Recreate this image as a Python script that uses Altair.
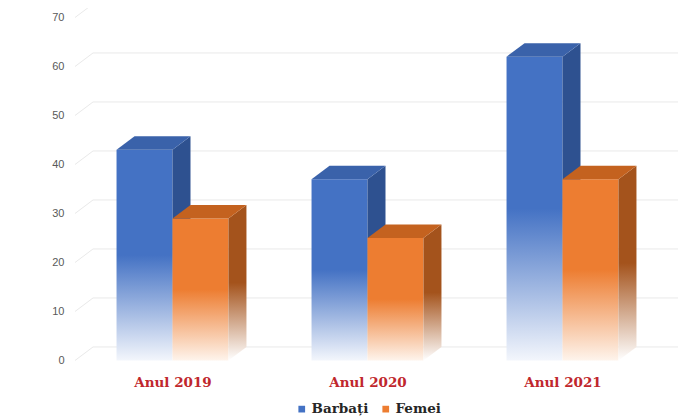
import altair as alt
import pandas as pd

# ---- data ----
years = ["Anul 2019", "Anul 2020", "Anul 2021"]
series = ["Barbați", "Femei"]
barbati = [43, 37, 62]
femei = [29, 25, 37]
y_ticks = [0, 10, 20, 30, 40, 50, 60, 70]

# ---- 3D look parameters (in scale units) ----
BAR_W = 0.287     # front-face width as a fraction of one category band
DX = 0.0923       # depth offset along x (category units)
DY = 2.76         # depth offset along y (value units)
Y_MAX = 71.94
N = len(years)

front_colors = ["#4472C4", "#ED7D31"]
top_colors = ["#3A62AA", "#C4621F"]
side_colors = ["#2E5190", "#A4531C"]
fade_colors = ["#F3F6FC", "#FEF4EC"]

values = [barbati, femei]

front, side, top = [], [], []
for i in range(N):
    c = i + 0.5
    for s, name in enumerate(series):
        v = values[s][i]
        L = c - BAR_W if s == 0 else c
        R = L + BAR_W
        bid = f"{i}-{s}"
        front.append(dict(series=name, bar=bid, x=L, x2=R, y=0, y2=v))
        side.append(dict(series=name, bar=bid, x=R, y=0, y2=v))
        side.append(dict(series=name, bar=bid, x=R + DX, y=DY, y2=v + DY))
        top.append(dict(series=name, bar=bid, x=L, y=v, y2=v))
        top.append(dict(series=name, bar=bid, x=L + DX, y=v, y2=v + DY))
        top.append(dict(series=name, bar=bid, x=R, y=v, y2=v + DY))
        top.append(dict(series=name, bar=bid, x=R + DX, y=v + DY, y2=v + DY))

front_df = pd.DataFrame(front)
side_df = pd.DataFrame(side)
top_df = pd.DataFrame(top)

diag_df = pd.DataFrame(dict(x=[0.0] * len(y_ticks), x2=[DX] * len(y_ticks),
                            y=y_ticks, y2=[t + DY for t in y_ticks]))
back_df = pd.DataFrame(dict(x=[DX] * len(y_ticks), x2=[N + DX] * len(y_ticks),
                            y=[t + DY for t in y_ticks]))
legend_df = pd.DataFrame(dict(series=series, x=[0.5, 0.5], y=[0, 0]))

# ---- scales / axes ----
label_expr = "[" + ",".join(f"'{y}'" for y in years) + "][floor(datum.value)]"
xscale = alt.Scale(domain=[0, N + DX], nice=False, zero=False)
yscale = alt.Scale(domain=[0, Y_MAX], nice=False, zero=False)
xaxis = alt.Axis(values=[i + 0.5 for i in range(N)], labelExpr=label_expr, title=None,
                 domain=False, ticks=False, grid=False, labelFont="DejaVu Serif",
                 labelFontWeight="bold", labelFontSize=13.5, labelColor="#C0272D",
                 labelPadding=15, labelFlush=False, labelOverlap=False)
yaxis = alt.Axis(values=y_ticks, title=None, domain=False, ticks=False, grid=False,
                 labelFont="Liberation Sans", labelFontSize=11, labelColor="#595959",
                 labelPadding=11)


def X(f="x"):
    return alt.X(f"{f}:Q", scale=xscale, axis=xaxis)


def Y(f="y"):
    return alt.Y(f"{f}:Q", scale=yscale, axis=yaxis, stack=None)


def grad(c1, c2):
    return {"gradient": "linear", "x1": 0, "y1": 0, "x2": 0, "y2": 1,
            "stops": [{"offset": 0, "color": c1}, {"offset": 0.5, "color": c1},
                      {"offset": 1, "color": c2}]}


GRID = "#E9E9E9"
layers = [
    alt.Chart(diag_df).mark_rule(color=GRID, strokeWidth=1).encode(
        x=X(), x2="x2:Q", y=Y(), y2="y2:Q"),
    alt.Chart(back_df).mark_rule(color=GRID, strokeWidth=1).encode(
        x=X(), x2="x2:Q", y=Y()),
]

for s, name in enumerate(series):
    layers.append(
        alt.Chart(front_df).transform_filter(alt.datum.series == name)
        .mark_rect(fill=grad(front_colors[s], fade_colors[s]), strokeWidth=0)
        .encode(x=X(), x2="x2:Q", y=Y(), y2="y2:Q"))
    layers.append(
        alt.Chart(side_df).transform_filter(alt.datum.series == name)
        .mark_area(fill=grad(side_colors[s], "#FFFFFF"), opacity=1, interpolate="linear")
        .encode(x=X(), y=Y(), y2="y2:Q", detail="bar:N"))
    layers.append(
        alt.Chart(top_df).transform_filter(alt.datum.series == name)
        .mark_area(fill=top_colors[s], opacity=1, interpolate="linear")
        .encode(x=X(), y=Y(), y2="y2:Q", detail="bar:N"))

layers.append(
    alt.Chart(legend_df).mark_square(opacity=0).encode(
        x=X(), y=Y(),
        color=alt.Color("series:N",
                        scale=alt.Scale(domain=series, range=front_colors),
                        legend=alt.Legend(title=None, orient="none", direction="horizontal",
                                          legendX=220, legendY=394, symbolType="square",
                                          symbolSize=45, symbolOpacity=1, symbolStrokeWidth=0,
                                          labelFont="DejaVu Serif", labelFontWeight="bold",
                                          labelFontSize=13.5, labelColor="#262626",
                                          columnPadding=10, labelOffset=3))))

chart = alt.layer(*layers).properties(
    width=603, height=352.5,
    autosize=alt.AutoSizeParams(type="none"),
    padding={"left": 67, "top": 0, "right": 10, "bottom": 56},
).configure_view(stroke=None)

chart.save("out.html", embed_options={"renderer": "svg", "actions": False})
